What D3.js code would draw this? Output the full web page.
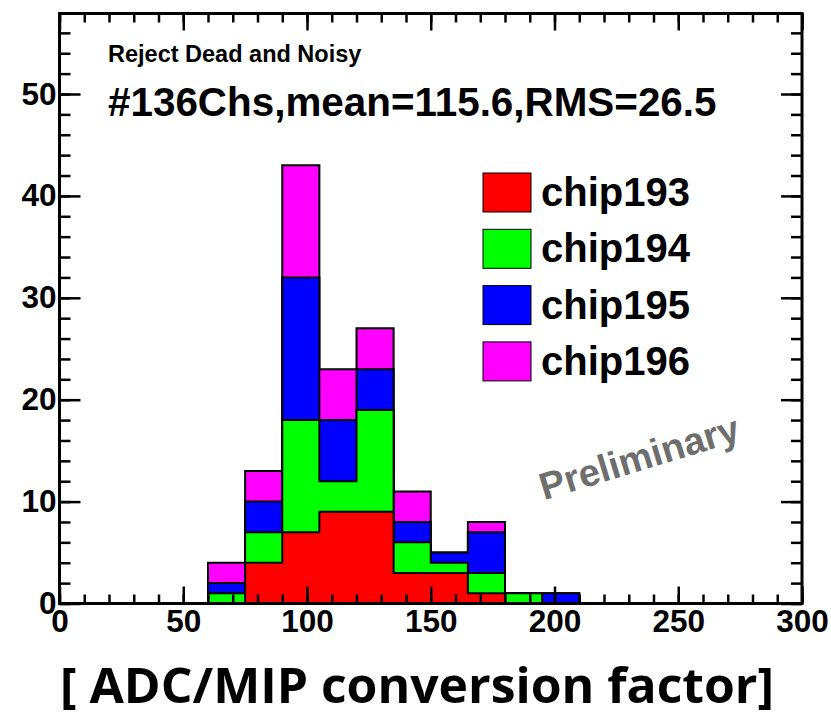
<!DOCTYPE html>
<html>
<head>
<meta charset="utf-8">
<script src="https://cdn.jsdelivr.net/npm/d3@7"></script>
<style>
  body { margin: 0; background: #fff; }
  svg text { font-weight: bold; }
</style>
</head>
<body>
<svg id="chart" width="831" height="716"></svg>
<script>
// Histogram bins (lower edges, width 15) and per-chip channel counts
const binLow = [60, 75, 90, 105, 120, 135, 150, 165, 180, 195];
const binWidth = 15;
const chip193 = [0, 4, 7, 9, 9, 3, 3, 1, 0, 0];
const chip194 = [1, 3, 11, 3, 10, 3, 1, 2, 1, 0];
const chip195 = [1, 3, 14, 6, 4, 2, 1, 4, 0, 1];
const chip196 = [2, 3, 11, 5, 4, 3, 0, 1, 0, 0];
const seriesNames = ["chip193", "chip194", "chip195", "chip196"];
const seriesColors = ["#ff0000", "#00ff00", "#0000ff", "#ff00ff"];
const xMajorTicks = [0, 50, 100, 150, 200, 250, 300];
const yMajorTicks = [0, 10, 20, 30, 40, 50];

const helv = "'Liberation Sans', Arial, Helvetica, sans-serif";
const svg = d3.select("#chart");
svg.append("rect").attr("width", 831).attr("height", 716).attr("fill", "#fff");

const plotLeft = 59.5, plotRight = 802, plotTop = 13.5, plotBottom = 603.5;
const x = d3.scaleLinear().domain([0, 300]).range([plotLeft, plotRight]);
const y = d3.scaleLinear().domain([0, 57.9]).range([plotBottom, plotTop]);

// cumulative (stacked) counts
const series = [chip193, chip194, chip195, chip196];
const cumulative = [];
series.forEach((s, k) => {
  cumulative.push(s.map((v, i) => v + (k > 0 ? cumulative[k - 1][i] : 0)));
});

const line = d3.line().x(d => x(d[0])).y(d => y(d[1]));
function stepPoints(counts) {
  const pts = [[binLow[0], 0]];
  counts.forEach((c, i) => {
    pts.push([binLow[i], c]);
    pts.push([binLow[i] + binWidth, c]);
  });
  pts.push([binLow[binLow.length - 1] + binWidth, 0]);
  return pts;
}

// draw tallest stack layer first so lower layers sit on top
const hist = svg.append("g");
for (let k = cumulative.length - 1; k >= 0; k--) {
  hist.append("path")
    .attr("d", line(stepPoints(cumulative[k])) + "Z")
    .attr("fill", seriesColors[k])
    .attr("stroke", "#000")
    .attr("stroke-width", 2)
    .attr("stroke-linejoin", "miter");
}

// axes with inward ticks on all four sides
const fontSize = 31.5;
function styleAxis(g) {
  g.select(".domain").remove();
  g.selectAll(".tick line").attr("stroke", "#000").attr("stroke-width", 2.5);
  g.selectAll("text").attr("fill", "#000").style("font-size", fontSize + "px")
    .style("font-family", helv).style("font-weight", "bold");
}
const xMinor = d3.range(0, 301, 10);
const yMinor = d3.range(0, 58, 2);

svg.append("g").attr("transform", `translate(0,${plotBottom})`)
  .call(d3.axisBottom(x).tickValues(xMinor).tickSize(-9).tickFormat("")).call(styleAxis);
svg.append("g").attr("transform", `translate(0,${plotBottom})`)
  .call(d3.axisBottom(x).tickValues(xMajorTicks).tickSize(-17).tickPadding(6).tickFormat(d3.format("d"))).call(styleAxis);
svg.append("g").attr("transform", `translate(0,${plotTop})`)
  .call(d3.axisTop(x).tickValues(xMinor).tickSize(-9).tickFormat("")).call(styleAxis);
svg.append("g").attr("transform", `translate(0,${plotTop})`)
  .call(d3.axisTop(x).tickValues(xMajorTicks).tickSize(-17).tickFormat("")).call(styleAxis);

svg.append("g").attr("transform", `translate(${plotLeft},0)`)
  .call(d3.axisLeft(y).tickValues(yMinor).tickSize(-11).tickFormat("")).call(styleAxis);
svg.append("g").attr("transform", `translate(${plotLeft},0)`)
  .call(d3.axisLeft(y).tickValues(yMajorTicks).tickSize(-21).tickPadding(3).tickFormat(d3.format("d"))).call(styleAxis);
svg.append("g").attr("transform", `translate(${plotRight},0)`)
  .call(d3.axisRight(y).tickValues(yMinor).tickSize(-11).tickFormat("")).call(styleAxis);
svg.append("g").attr("transform", `translate(${plotRight},0)`)
  .call(d3.axisRight(y).tickValues(yMajorTicks).tickSize(-21).tickFormat("")).call(styleAxis);

// frame
svg.append("rect")
  .attr("x", plotLeft).attr("y", plotTop)
  .attr("width", plotRight - plotLeft).attr("height", plotBottom - plotTop)
  .attr("fill", "none").attr("stroke", "#000").attr("stroke-width", 3);

// annotations
svg.append("text").attr("x", 108).attr("y", 62)
  .style("font-family", helv).style("font-size", "23.5px")
  .text("Reject Dead and Noisy");
svg.append("text").attr("x", 108).attr("y", 116)
  .style("font-family", helv).style("font-size", "40.4px")
  .text("#136Chs,mean=115.6,RMS=26.5");

// legend
const legend = svg.append("g");
seriesNames.forEach((name, k) => {
  const ty = 173 + k * 56.3;
  legend.append("rect").attr("x", 483).attr("y", ty).attr("width", 48).attr("height", 39)
    .attr("fill", seriesColors[k]).attr("stroke", "#000").attr("stroke-width", 1);
  legend.append("text").attr("x", 541).attr("y", ty + 33)
    .style("font-family", helv).style("font-size", "40px").text(name);
});

// watermark
svg.append("text")
  .attr("transform", "translate(643,470) rotate(-17)")
  .attr("text-anchor", "middle").attr("fill", "#6e6e6e")
  .style("font-family", helv).style("font-size", "38px")
  .text("Preliminary");

// x-axis title
svg.append("text")
  .attr("x", 417).attr("y", 703).attr("text-anchor", "middle")
  .style("font-family", "'Open Sans', sans-serif").style("font-size", "48px")
  .attr("textLength", 714).attr("lengthAdjust", "spacingAndGlyphs")
  .text("[ ADC/MIP conversion factor]");
</script>
</body>
</html>
